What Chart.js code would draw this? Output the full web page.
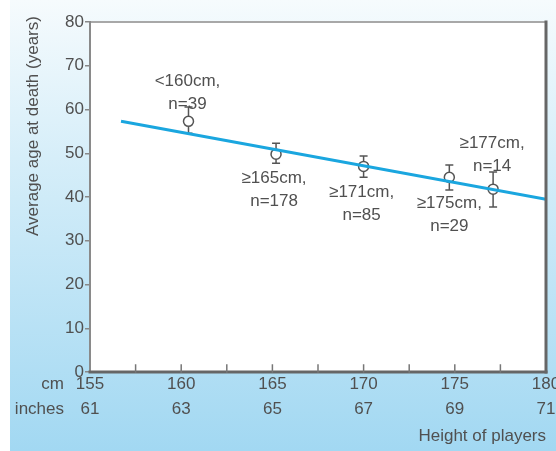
<!DOCTYPE html>
<html>
<head>
<meta charset="utf-8">
<script src="https://cdn.jsdelivr.net/npm/chart.js@4.4.1/dist/chart.umd.min.js"></script>
<style>
  html, body { margin: 0; padding: 0; background: #fff; }
  #wrap { width: 556px; height: 451px; }
</style>
</head>
<body>
<div id="wrap"><canvas id="grafico" width="556" height="451"></canvas></div>
<script>
// Datos
const cmTicks = [155, 160, 165, 170, 175, 180];
const inchTicks = ["61", "63", "65", "67", "69", "71"];

const groupHeights = [160.4, 165.2, 170.0, 174.7, 177.1];
const meanAges = [57.3, 49.8, 47.0, 44.5, 41.8];
const ciLow = [54.6, 47.7, 44.5, 41.6, 37.7];
const ciHigh = [60.6, 52.3, 49.4, 47.3, 45.7];
const groupLabels = ["<160cm,", "≥165cm,", "≥171cm,", "≥175cm,", "≥177cm,"];
const groupN = ["n=39", "n=178", "n=85", "n=29", "n=14"];

const trendX = [156.7, 180];
const trendY = [57.3, 39.5];

// Posicion de las etiquetas respecto al punto (px)
const labelOffsets = [[-1, -40], [-2, 24], [-2, 26], [0, 26], [-1, -46]];

const FONT = "'Liberation Sans', Arial, sans-serif";
const TXT = "#505050";

const fondo = {
  id: "fondo",
  beforeDraw(chart) {
    const { ctx, width, height, chartArea: a } = chart;
    ctx.save();
    ctx.fillStyle = "#fff";
    ctx.fillRect(0, 0, width, height);
    const g = ctx.createLinearGradient(0, 0, 0, height);
    g.addColorStop(0, "#f6fbfd");
    g.addColorStop(0.35, "#d6eef9");
    g.addColorStop(1, "#a2d8f2");
    ctx.fillStyle = g;
    ctx.fillRect(10, 0, width - 10, height);
    ctx.fillStyle = "#fff";
    ctx.fillRect(a.left, a.top, a.right - a.left, a.bottom - a.top);
    ctx.restore();
  },
  beforeDatasetsDraw(chart) {
    // barras de error
    const { ctx, scales: { x, y } } = chart;
    ctx.save();
    ctx.strokeStyle = "#555";
    ctx.lineWidth = 1.5;
    groupHeights.forEach((h, i) => {
      const px = x.getPixelForValue(h);
      const y1 = y.getPixelForValue(ciLow[i]);
      const y2 = y.getPixelForValue(ciHigh[i]);
      ctx.beginPath();
      ctx.moveTo(px, y1); ctx.lineTo(px, y2);
      ctx.moveTo(px - 4, y1); ctx.lineTo(px + 4, y1);
      ctx.moveTo(px - 4, y2); ctx.lineTo(px + 4, y2);
      ctx.stroke();
    });
    ctx.restore();
  },
  afterDraw(chart) {
    const { ctx, chartArea: a, scales: { x, y } } = chart;
    ctx.save();
    // marco
    ctx.lineCap = "square";
    ctx.strokeStyle = "#a8a8a8";
    ctx.lineWidth = 2;
    ctx.beginPath(); ctx.moveTo(a.left, a.top); ctx.lineTo(a.right, a.top); ctx.stroke();
    ctx.strokeStyle = "#8a8a8a";
    ctx.beginPath(); ctx.moveTo(a.left, a.top); ctx.lineTo(a.left, a.bottom); ctx.stroke();
    ctx.strokeStyle = "#666";
    ctx.lineWidth = 3;
    ctx.beginPath(); ctx.moveTo(a.right, a.top); ctx.lineTo(a.right, a.bottom); ctx.stroke();
    ctx.beginPath(); ctx.moveTo(a.left, a.bottom); ctx.lineTo(a.right, a.bottom); ctx.stroke();
    // marcas interiores del eje x
    ctx.strokeStyle = "#777";
    ctx.lineWidth = 1.5;
    x.ticks.forEach(t => {
      if (t.value <= x.min || t.value >= x.max) return;
      const px = x.getPixelForValue(t.value);
      ctx.beginPath(); ctx.moveTo(px, a.bottom); ctx.lineTo(px, a.bottom - 7); ctx.stroke();
    });
    // etiquetas de grupos
    ctx.fillStyle = TXT;
    ctx.font = "17px " + FONT;
    ctx.textAlign = "center";
    ctx.textBaseline = "middle";
    groupHeights.forEach((h, i) => {
      const px = x.getPixelForValue(h) + labelOffsets[i][0];
      const py = y.getPixelForValue(meanAges[i]) + labelOffsets[i][1];
      ctx.fillText(groupLabels[i], px, py);
      ctx.fillText(groupN[i], px, py + 23);
    });
    // filas del eje x
    ctx.textAlign = "right";
    ctx.fillText("cm", 64, a.bottom + 12.5);
    ctx.fillText("inches", 64, a.bottom + 37.5);
    // titulo eje y
    ctx.translate(33, 126);
    ctx.rotate(-Math.PI / 2);
    ctx.textAlign = "center";
    ctx.fillText("Average age at death (years)", 0, 0);
    ctx.restore();
  }
};

new Chart(document.getElementById("grafico"), {
  type: "scatter",
  data: {
    datasets: [
      {
        type: "line",
        label: "Tendencia",
        data: trendX.map((v, i) => ({ x: v, y: trendY[i] })),
        borderColor: "#1aa6df",
        borderWidth: 3,
        pointRadius: 0,
        fill: false
      },
      {
        label: "Grupos",
        data: groupHeights.map((v, i) => ({ x: v, y: meanAges[i] })),
        pointRadius: 5,
        pointBackgroundColor: "#fff",
        pointBorderColor: "#555",
        pointBorderWidth: 1.5
      }
    ]
  },
  options: {
    responsive: false,
    animation: false,
    layout: { padding: { left: 10, top: 22, right: 10, bottom: 0 } },
    plugins: { legend: { display: false }, tooltip: { enabled: false } },
    scales: {
      x: {
        type: "linear",
        min: 155,
        max: 180,
        border: { display: false },
        grid: { display: false, drawTicks: false },
        ticks: {
          stepSize: 2.5,
          autoSkip: false,
          maxRotation: 0,
          padding: 0,
          color: TXT,
          font: { family: FONT, size: 17, lineHeight: 25 / 17 },
          callback: v => {
            const i = cmTicks.indexOf(v);
            return i < 0 ? "" : [String(cmTicks[i]), inchTicks[i]];
          }
        },
        title: {
          display: true,
          text: "Height of players",
          align: "end",
          color: TXT,
          font: { family: FONT, size: 17 },
          padding: { top: 0, bottom: 4 }
        },
        afterFit: s => { s.height = 79; s.paddingLeft = 0; s.paddingRight = 0; }
      },
      y: {
        min: 0,
        max: 80,
        border: { display: false },
        grid: { drawOnChartArea: false, drawTicks: true, tickLength: 5, color: "#888", lineWidth: 1.5 },
        ticks: {
          stepSize: 10,
          padding: 1,
          color: TXT,
          font: { family: FONT, size: 17 }
        },
        afterFit: s => { s.width = 80; }
      }
    }
  },
  plugins: [fondo]
});
</script>
</body>
</html>
